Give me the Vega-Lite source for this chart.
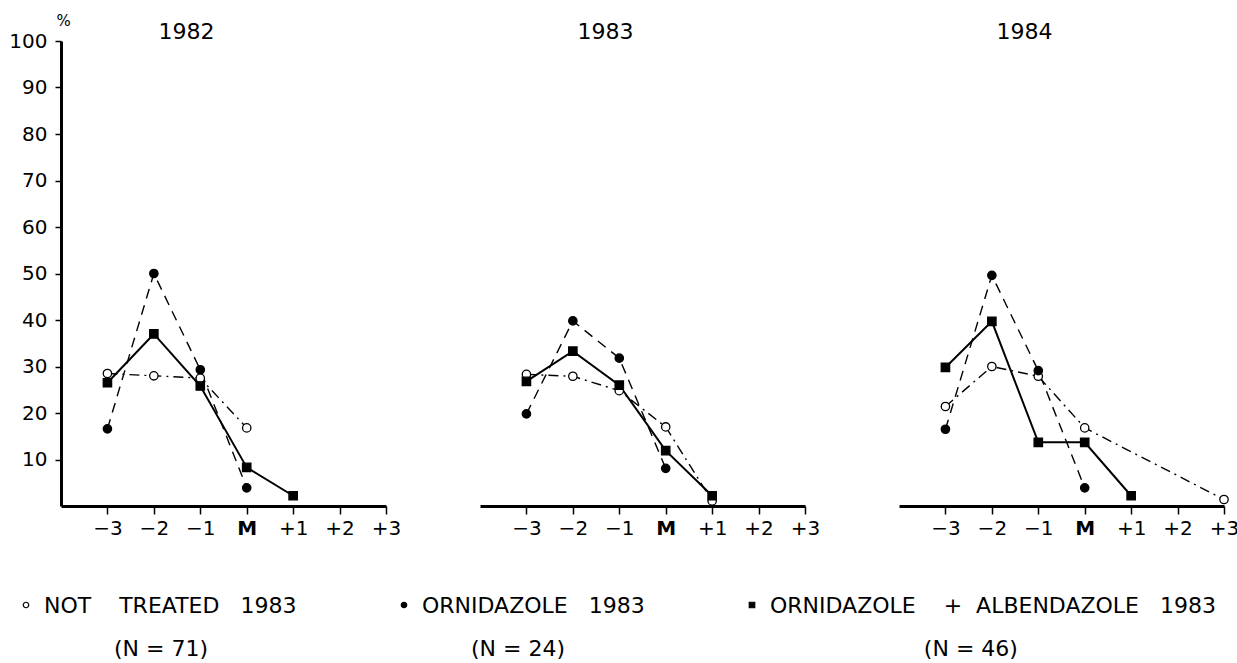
{
  "$schema": "https://vega.github.io/schema/vega-lite/v6.json",
  "padding": {"left": 8, "top": 13, "right": 4, "bottom": 3},
  "background": "white",
  "config": {
    "view": {"stroke": null},
    "font": "DejaVu Sans",
    "axis": {"grid": false, "domainColor": "black", "tickColor": "black", "labelColor": "black", "titleColor": "black", "labelFont": "DejaVu Sans", "titleFont": "DejaVu Sans"},
    "title": {"font": "DejaVu Sans", "fontSize": 22, "fontWeight": "normal", "color": "black"},
    "legend": {"labelFont": "DejaVu Sans", "labelColor": "black"}
  },
  "data": {
    "values": [
      {"year": 1982, "series": "NOT TREATED 1983", "month": -3, "pct": 28.5},
      {"year": 1982, "series": "NOT TREATED 1983", "month": -2, "pct": 28.0},
      {"year": 1982, "series": "NOT TREATED 1983", "month": -1, "pct": 27.5},
      {"year": 1982, "series": "NOT TREATED 1983", "month": 0, "pct": 16.8},
      {"year": 1982, "series": "ORNIDAZOLE 1983", "month": -3, "pct": 16.6},
      {"year": 1982, "series": "ORNIDAZOLE 1983", "month": -2, "pct": 50.0},
      {"year": 1982, "series": "ORNIDAZOLE 1983", "month": -1, "pct": 29.3},
      {"year": 1982, "series": "ORNIDAZOLE 1983", "month": 0, "pct": 3.9},
      {"year": 1982, "series": "ORNIDAZOLE + ALBENDAZOLE 1983", "month": -3, "pct": 26.5},
      {"year": 1982, "series": "ORNIDAZOLE + ALBENDAZOLE 1983", "month": -2, "pct": 37.0},
      {"year": 1982, "series": "ORNIDAZOLE + ALBENDAZOLE 1983", "month": -1, "pct": 25.8},
      {"year": 1982, "series": "ORNIDAZOLE + ALBENDAZOLE 1983", "month": 0, "pct": 8.3},
      {"year": 1982, "series": "ORNIDAZOLE + ALBENDAZOLE 1983", "month": 1, "pct": 2.2},
      {"year": 1983, "series": "NOT TREATED 1983", "month": -3, "pct": 28.3},
      {"year": 1983, "series": "NOT TREATED 1983", "month": -2, "pct": 27.9},
      {"year": 1983, "series": "NOT TREATED 1983", "month": -1, "pct": 24.8},
      {"year": 1983, "series": "NOT TREATED 1983", "month": 0, "pct": 17.0},
      {"year": 1983, "series": "NOT TREATED 1983", "month": 1, "pct": 1.1},
      {"year": 1983, "series": "ORNIDAZOLE 1983", "month": -3, "pct": 19.8},
      {"year": 1983, "series": "ORNIDAZOLE 1983", "month": -2, "pct": 39.8},
      {"year": 1983, "series": "ORNIDAZOLE 1983", "month": -1, "pct": 31.8},
      {"year": 1983, "series": "ORNIDAZOLE 1983", "month": 0, "pct": 8.1},
      {"year": 1983, "series": "ORNIDAZOLE + ALBENDAZOLE 1983", "month": -3, "pct": 26.8},
      {"year": 1983, "series": "ORNIDAZOLE + ALBENDAZOLE 1983", "month": -2, "pct": 33.3},
      {"year": 1983, "series": "ORNIDAZOLE + ALBENDAZOLE 1983", "month": -1, "pct": 26.0},
      {"year": 1983, "series": "ORNIDAZOLE + ALBENDAZOLE 1983", "month": 0, "pct": 11.9},
      {"year": 1983, "series": "ORNIDAZOLE + ALBENDAZOLE 1983", "month": 1, "pct": 2.2},
      {"year": 1984, "series": "NOT TREATED 1983", "month": -3, "pct": 21.4},
      {"year": 1984, "series": "NOT TREATED 1983", "month": -2, "pct": 30.0},
      {"year": 1984, "series": "NOT TREATED 1983", "month": -1, "pct": 27.9},
      {"year": 1984, "series": "NOT TREATED 1983", "month": 0, "pct": 16.8},
      {"year": 1984, "series": "NOT TREATED 1983", "month": 3, "pct": 1.4},
      {"year": 1984, "series": "ORNIDAZOLE 1983", "month": -3, "pct": 16.5},
      {"year": 1984, "series": "ORNIDAZOLE 1983", "month": -2, "pct": 49.6},
      {"year": 1984, "series": "ORNIDAZOLE 1983", "month": -1, "pct": 29.1},
      {"year": 1984, "series": "ORNIDAZOLE 1983", "month": 0, "pct": 3.9},
      {"year": 1984, "series": "ORNIDAZOLE + ALBENDAZOLE 1983", "month": -3, "pct": 29.8},
      {"year": 1984, "series": "ORNIDAZOLE + ALBENDAZOLE 1983", "month": -2, "pct": 39.7},
      {"year": 1984, "series": "ORNIDAZOLE + ALBENDAZOLE 1983", "month": -1, "pct": 13.7},
      {"year": 1984, "series": "ORNIDAZOLE + ALBENDAZOLE 1983", "month": 0, "pct": 13.7},
      {"year": 1984, "series": "ORNIDAZOLE + ALBENDAZOLE 1983", "month": 1, "pct": 2.2}
    ]
  },
  "spacing": 94,
  "bounds": "flush",
  "resolve": {"scale": {"shape": "shared", "fill": "shared"}, "legend": {"shape": "shared", "fill": "shared"}},
  "hconcat": [
    {
      "width": 325, "height": 465,
      "title": {"text": "1982", "anchor": "middle", "frame": "group", "dx": -37, "dy": 28, "offset": -20, "baseline": "alphabetic"},
      "transform": [{"filter": "datum.year == 1982"}],
      "encoding": {
        "x": {"field": "month", "type": "quantitative", "scale": {"domain": [-4, 3], "nice": false, "zero": false},
          "axis": {"values": [-3, -2, -1, 0, 1, 2, 3], "title": null, "labelExpr": "datum.value == 0 ? 'M' : (datum.value > 0 ? '+' + datum.value : '\u2212' + abs(datum.value))", "labelFontSize": 20, "labelFontWeight": {"condition": {"test": "datum.value == 0", "value": "bold"}, "value": "normal"}, "domainWidth": 3, "tickWidth": 1.5, "tickSize": 8, "labelPadding": 4, "labelFlush": false, "labelOverlap": false}},
        "y": {"field": "pct", "type": "quantitative", "scale": {"domain": [0, 100], "nice": false},
          "axis": {"values": [10, 20, 30, 40, 50, 60, 70, 80, 90, 100], "title": "%", "titleAngle": 0, "titleX": 2, "titleY": -16, "titleAlign": "center", "titleBaseline": "alphabetic", "titleFontSize": 15, "titleFontWeight": "normal", "labelFontSize": 20, "domainWidth": 3, "tickWidth": 1.5, "tickSize": 6, "labelPadding": 8, "labelFlush": false, "labelOverlap": false}}
      },
      "layer": [
        {"transform": [{"filter": "datum.series == 'NOT TREATED 1983'"}], "mark": {"type": "line", "color": "black", "strokeWidth": 1.4, "strokeDash": [10, 5, 2, 5]}, "encoding": {}},
        {"transform": [{"filter": "datum.series == 'ORNIDAZOLE 1983'"}], "mark": {"type": "line", "color": "black", "strokeWidth": 1.4, "strokeDash": [10, 7]}, "encoding": {}},
        {"transform": [{"filter": "datum.series == 'ORNIDAZOLE + ALBENDAZOLE 1983'"}], "mark": {"type": "line", "color": "black", "strokeWidth": 2}, "encoding": {}},
        {"mark": {"type": "point", "filled": true, "stroke": "black", "strokeWidth": 1.3, "opacity": 1, "size": 70},
         "encoding": {
           "shape": {"field": "series", "type": "nominal", "scale": {"domain": ["NOT TREATED 1983", "ORNIDAZOLE 1983", "ORNIDAZOLE + ALBENDAZOLE 1983"], "range": ["circle", "circle", "square"]},
             "legend": {"orient": "none", "legendX": -46, "legendY": 553, "direction": "horizontal", "title": null, "padding": 0, "labelFontSize": 22, "labelLimit": 1000, "labelOffset": 7, "columnPadding": 96, "symbolSize": 30, "symbolStrokeColor": "black", "symbolStrokeWidth": 1.2, "labelBaseline": "alphabetic",
               "labelExpr": "datum.label == 'NOT TREATED 1983' ? ['NOT\u00a0\u00a0\u00a0\u00a0TREATED\u00a0\u00a0\u00a01983', '\u200b\u00a0\u00a0\u00a0\u00a0\u00a0\u00a0\u00a0\u00a0\u00a0\u00a0(N = 71)'] : (datum.label == 'ORNIDAZOLE 1983' ? ['ORNIDAZOLE\u00a0\u00a0\u00a01983', '\u200b\u00a0\u00a0\u00a0\u00a0\u00a0\u00a0\u00a0(N = 24)'] : ['ORNIDAZOLE\u00a0\u00a0\u00a0\u00a0+\u00a0\u00a0ALBENDAZOLE\u00a0\u00a0\u00a01983', '\u200b\u00a0\u00a0\u00a0\u00a0\u00a0\u00a0\u00a0\u00a0\u00a0\u00a0\u00a0\u00a0\u00a0\u00a0\u00a0\u00a0\u00a0\u00a0\u00a0\u00a0\u00a0\u00a0(N = 46)'])",
               "encoding": {"labels": {"dy": {"value": 8}, "lineHeight": {"value": 43}}, "symbols": {"stroke": {"value": "black"}, "strokeWidth": {"value": 1.2}}}}},
           "fill": {"field": "series", "type": "nominal", "scale": {"domain": ["NOT TREATED 1983", "ORNIDAZOLE 1983", "ORNIDAZOLE + ALBENDAZOLE 1983"], "range": ["white", "black", "black"]},
             "legend": {"orient": "none", "legendX": -46, "legendY": 553, "direction": "horizontal", "title": null, "padding": 0, "labelFontSize": 22, "labelLimit": 1000, "labelOffset": 7, "columnPadding": 96, "symbolSize": 30, "symbolStrokeColor": "black", "symbolStrokeWidth": 1.2, "labelBaseline": "alphabetic",
               "labelExpr": "datum.label == 'NOT TREATED 1983' ? ['NOT\u00a0\u00a0\u00a0\u00a0TREATED\u00a0\u00a0\u00a01983', '\u200b\u00a0\u00a0\u00a0\u00a0\u00a0\u00a0\u00a0\u00a0\u00a0\u00a0(N = 71)'] : (datum.label == 'ORNIDAZOLE 1983' ? ['ORNIDAZOLE\u00a0\u00a0\u00a01983', '\u200b\u00a0\u00a0\u00a0\u00a0\u00a0\u00a0\u00a0(N = 24)'] : ['ORNIDAZOLE\u00a0\u00a0\u00a0\u00a0+\u00a0\u00a0ALBENDAZOLE\u00a0\u00a0\u00a01983', '\u200b\u00a0\u00a0\u00a0\u00a0\u00a0\u00a0\u00a0\u00a0\u00a0\u00a0\u00a0\u00a0\u00a0\u00a0\u00a0\u00a0\u00a0\u00a0\u00a0\u00a0\u00a0\u00a0(N = 46)'])",
               "encoding": {"labels": {"dy": {"value": 8}, "lineHeight": {"value": 43}}, "symbols": {"stroke": {"value": "black"}, "strokeWidth": {"value": 1.2}}}}}
         }}
      ]
    },
    {
      "width": 325, "height": 465,
      "title": {"text": "1983", "anchor": "middle", "frame": "group", "dx": -37, "offset": -20, "baseline": "alphabetic"},
      "transform": [{"filter": "datum.year == 1983"}],
      "encoding": {
        "x": {"field": "month", "type": "quantitative", "scale": {"domain": [-4, 3], "nice": false, "zero": false},
          "axis": {"values": [-3, -2, -1, 0, 1, 2, 3], "title": null, "labelExpr": "datum.value == 0 ? 'M' : (datum.value > 0 ? '+' + datum.value : '\u2212' + abs(datum.value))", "labelFontSize": 20, "labelFontWeight": {"condition": {"test": "datum.value == 0", "value": "bold"}, "value": "normal"}, "domainWidth": 3, "tickWidth": 1.5, "tickSize": 8, "labelPadding": 4, "labelFlush": false, "labelOverlap": false}},
        "y": {"field": "pct", "type": "quantitative", "scale": {"domain": [0, 100], "nice": false}, "axis": null}
      },
      "layer": [
        {"transform": [{"filter": "datum.series == 'NOT TREATED 1983'"}], "mark": {"type": "line", "color": "black", "strokeWidth": 1.4, "strokeDash": [10, 5, 2, 5]}, "encoding": {}},
        {"transform": [{"filter": "datum.series == 'ORNIDAZOLE 1983'"}], "mark": {"type": "line", "color": "black", "strokeWidth": 1.4, "strokeDash": [10, 7]}, "encoding": {}},
        {"transform": [{"filter": "datum.series == 'ORNIDAZOLE + ALBENDAZOLE 1983'"}], "mark": {"type": "line", "color": "black", "strokeWidth": 2}, "encoding": {}},
        {"mark": {"type": "point", "filled": true, "stroke": "black", "strokeWidth": 1.3, "opacity": 1, "size": 70},
         "encoding": {
           "shape": {"field": "series", "type": "nominal", "scale": {"domain": ["NOT TREATED 1983", "ORNIDAZOLE 1983", "ORNIDAZOLE + ALBENDAZOLE 1983"], "range": ["circle", "circle", "square"]}},
           "fill": {"field": "series", "type": "nominal", "scale": {"domain": ["NOT TREATED 1983", "ORNIDAZOLE 1983", "ORNIDAZOLE + ALBENDAZOLE 1983"], "range": ["white", "black", "black"]}}
         }}
      ]
    },
    {
      "width": 325, "height": 465,
      "title": {"text": "1984", "anchor": "middle", "frame": "group", "dx": -37, "offset": -20, "baseline": "alphabetic"},
      "transform": [{"filter": "datum.year == 1984"}],
      "encoding": {
        "x": {"field": "month", "type": "quantitative", "scale": {"domain": [-4, 3], "nice": false, "zero": false},
          "axis": {"values": [-3, -2, -1, 0, 1, 2, 3], "title": null, "labelExpr": "datum.value == 0 ? 'M' : (datum.value > 0 ? '+' + datum.value : '\u2212' + abs(datum.value))", "labelFontSize": 20, "labelFontWeight": {"condition": {"test": "datum.value == 0", "value": "bold"}, "value": "normal"}, "domainWidth": 3, "tickWidth": 1.5, "tickSize": 8, "labelPadding": 4, "labelFlush": false, "labelOverlap": false}},
        "y": {"field": "pct", "type": "quantitative", "scale": {"domain": [0, 100], "nice": false}, "axis": null}
      },
      "layer": [
        {"transform": [{"filter": "datum.series == 'NOT TREATED 1983'"}], "mark": {"type": "line", "color": "black", "strokeWidth": 1.4, "strokeDash": [10, 5, 2, 5]}, "encoding": {}},
        {"transform": [{"filter": "datum.series == 'ORNIDAZOLE 1983'"}], "mark": {"type": "line", "color": "black", "strokeWidth": 1.4, "strokeDash": [10, 7]}, "encoding": {}},
        {"transform": [{"filter": "datum.series == 'ORNIDAZOLE + ALBENDAZOLE 1983'"}], "mark": {"type": "line", "color": "black", "strokeWidth": 2}, "encoding": {}},
        {"mark": {"type": "point", "filled": true, "stroke": "black", "strokeWidth": 1.3, "opacity": 1, "size": 70},
         "encoding": {
           "shape": {"field": "series", "type": "nominal", "scale": {"domain": ["NOT TREATED 1983", "ORNIDAZOLE 1983", "ORNIDAZOLE + ALBENDAZOLE 1983"], "range": ["circle", "circle", "square"]}},
           "fill": {"field": "series", "type": "nominal", "scale": {"domain": ["NOT TREATED 1983", "ORNIDAZOLE 1983", "ORNIDAZOLE + ALBENDAZOLE 1983"], "range": ["white", "black", "black"]}}
         }}
      ]
    }
  ]
}
